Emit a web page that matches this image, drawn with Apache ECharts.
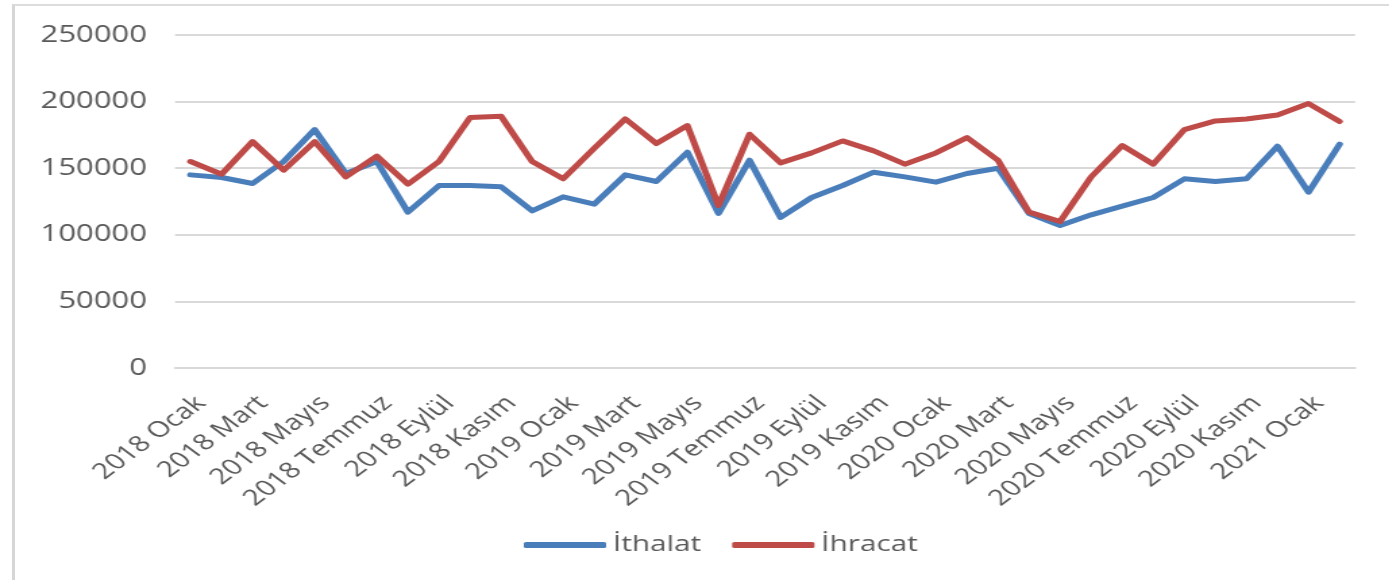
<!DOCTYPE html>
<html>
<head>
<meta charset="utf-8">
<script src="https://cdn.jsdelivr.net/npm/echarts@6/dist/echarts.min.js"></script>
<style>
  html, body { margin: 0; padding: 0; background: #fff; overflow: hidden; }
  #wrap { position: absolute; left: 0; top: 0; width: 1389px; height: 580px; overflow: hidden; }
  #chart { position: absolute; left: 0; top: 0; width: 1029px; height: 580px; transform: scaleX(1.35); transform-origin: 0 0; }
  #frame { position: absolute; left: 12px; top: 4px; right: -4px; bottom: -4px; border-left: 3px solid #d6d6d6; border-top: 2px solid #dcdcdc; pointer-events: none; }
</style>
</head>
<body>
<div id="wrap">
  <div id="chart"></div>
  <div id="frame"></div>
</div>
<script>
const categories = [
  '2018 Ocak','2018 Şubat','2018 Mart','2018 Nisan','2018 Mayıs','2018 Haziran','2018 Temmuz','2018 Ağustos','2018 Eylül','2018 Ekim','2018 Kasım','2018 Aralık',
  '2019 Ocak','2019 Şubat','2019 Mart','2019 Nisan','2019 Mayıs','2019 Haziran','2019 Temmuz','2019 Ağustos','2019 Eylül','2019 Ekim','2019 Kasım','2019 Aralık',
  '2020 Ocak','2020 Şubat','2020 Mart','2020 Nisan','2020 Mayıs','2020 Haziran','2020 Temmuz','2020 Ağustos','2020 Eylül','2020 Ekim','2020 Kasım','2020 Aralık',
  '2021 Ocak','2021 Şubat'
];
const ithalat = [145000, 143000, 138500, 155000, 179000, 146000, 155000, 117000, 137000, 137000, 136000, 118000,
                 128500, 123000, 145000, 140000, 162000, 116000, 156000, 113000, 128000, 137000, 147000, 143500,
                 139500, 146000, 150000, 116000, 107000, 115000, 121500, 128000, 142000, 140000, 142000, 166500,
                 132000, 168000];
const ihracat = [155000, 145500, 170000, 148500, 170000, 143500, 159000, 138000, 155000, 188000, 189000, 155000,
                 142000, 165000, 187000, 168500, 182000, 122000, 175500, 154000, 161500, 170500, 163000, 153000,
                 161500, 173000, 156000, 117000, 110000, 143500, 167000, 153000, 179000, 185500, 187000, 190000,
                 198500, 185000];
const seriesNames = ['İthalat', 'İhracat'];
const yTicks = { min: 0, max: 250000, interval: 50000 };

const chart = echarts.init(document.getElementById('chart'));
const font = '"Open Sans", "Liberation Sans", sans-serif';
chart.setOption({
  animation: false,
  grid: { left: 129.6, right: 25.2, top: 35, bottom: 212 },
  legend: {
    data: seriesNames,
    left: 383, top: 529,
    icon: 'roundRect',
    itemWidth: 61, itemHeight: 6, itemGap: 23,
    textStyle: { fontFamily: font, fontSize: 22, color: '#595959' }
  },
  xAxis: {
    type: 'category',
    data: categories,
    boundaryGap: true,
    axisLine: { show: true, lineStyle: { color: '#d9d9d9', width: 2 } },
    axisTick: { show: false },
    axisLabel: {
      interval: 1, rotate: 45, margin: 24, verticalAlign: 'top',
      fontFamily: font, fontSize: 22, color: '#595959'
    }
  },
  yAxis: {
    type: 'value',
    min: yTicks.min, max: yTicks.max, interval: yTicks.interval,
    axisLine: { show: false },
    axisTick: { show: false },
    splitLine: { lineStyle: { color: '#d9d9d9', width: 2 } },
    axisLabel: { margin: 20.7, fontFamily: font, fontSize: 23, color: '#595959',
                 formatter: v => String(v) }
  },
  series: [
    { name: seriesNames[0], type: 'line', data: ithalat, symbol: 'none',
      lineStyle: { color: '#4a7ebb', width: 5, cap: 'round', join: 'round' }, itemStyle: { color: '#4a7ebb' } },
    { name: seriesNames[1], type: 'line', data: ihracat, symbol: 'none',
      lineStyle: { color: '#be4b48', width: 5, cap: 'round', join: 'round' }, itemStyle: { color: '#be4b48' } }
  ]
});
</script>
</body>
</html>
